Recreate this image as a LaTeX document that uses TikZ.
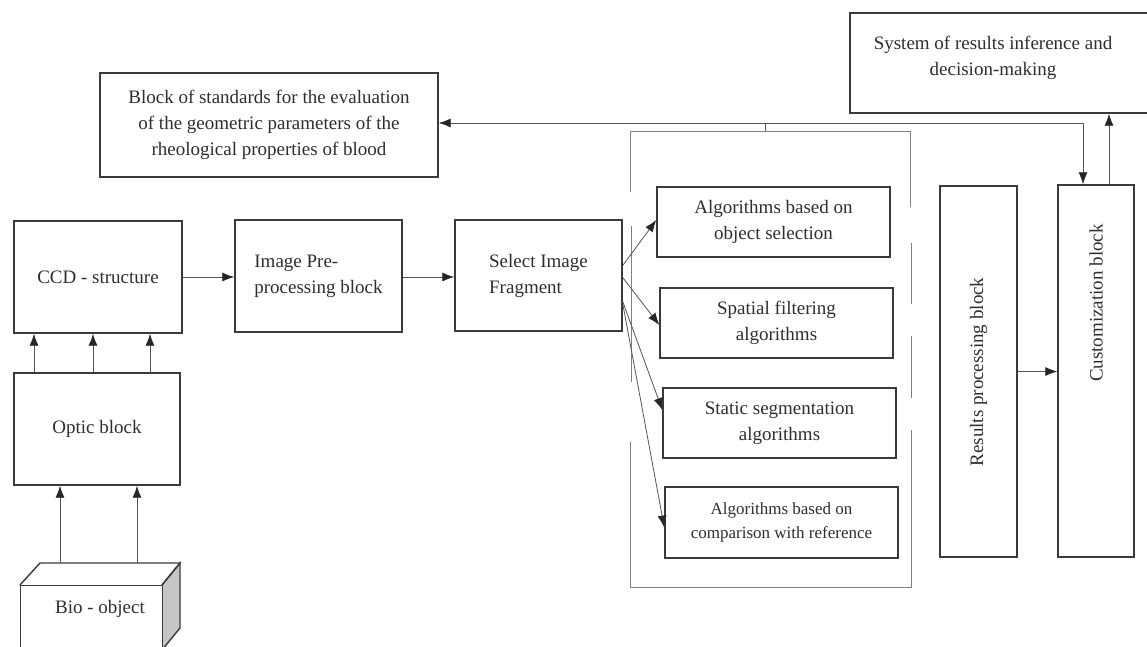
\documentclass[tikz,border=0pt]{standalone}
\usepackage{fontspec}
\setmainfont{Liberation Serif}
\usetikzlibrary{arrows.meta}
\definecolor{boxline}{HTML}{3A3A3A}
\definecolor{conn}{HTML}{555555}
\definecolor{txt}{HTML}{2E2E2E}
\begin{document}
\begin{tikzpicture}[x=1pt,y=-1pt,
  blk/.style={draw=boxline,line width=1.4pt,rectangle,inner sep=0pt,text=txt,
     font=\fontsize{19}{26}\selectfont,align=center},
  arr/.style={draw=conn,line width=0.8pt,-{Latex[length=12pt,width=9pt,color=black!85]}},
  ln/.style={draw=conn,line width=0.8pt},
  brk/.style={draw=gray,line width=0.9pt},
  lbl/.style={text=txt,font=\fontsize{19}{26}\selectfont,align=center,inner sep=0pt}]
\useasboundingbox (0,0) rectangle (1147,646);
% top blocks
\node[blk,minimum width=338,minimum height=104] (std) at (269,125)
  {Block of standards for the evaluation\\of the geometric parameters of the\\rheological properties of blood};
\node[blk,minimum width=300,minimum height=100] (sys) at (1000,63) {};
\node[lbl] (systxt) at (993,58) {System of results inference and\\decision-making};
% left chain
\node[blk,minimum width=168,minimum height=112] (ccd) at (98,277) {CCD - structure};
\node[blk,minimum width=166,minimum height=112] (optic) at (97,429) {Optic block};
\node[blk,minimum width=167,minimum height=112,align=left] (pre) at (318.5,276)
  {Image Pre-\\processing block};
\node[blk,minimum width=167,minimum height=111,align=left] (sel) at (538.5,275.5)
  {Select Image\\Fragment};
% bio-object 3D box
\fill[gray!45] (162,585) -- (180,563) -- (180,628) -- (162,650) -- cycle;
\draw[boxline,line width=1.4pt] (20,585) -- (40,563) -- (180,563) -- (162,585);
\draw[boxline,line width=1.4pt] (162,585) -- (180,563) -- (180,628) -- (162,650);
\node[blk,minimum width=142,minimum height=70,anchor=north west] (bio) at (20,585) {};
\node[lbl] (biotxt) at (100,609) {Bio - object};
\coordinate (bioa) at (60,563);
\coordinate (biob) at (137,563);
% algorithm boxes
\node[blk,minimum width=233,minimum height=70] (a1) at (773.5,222) {Algorithms based on\\object selection};
\node[blk,minimum width=233,minimum height=70] (a2) at (776.5,323) {Spatial filtering\\algorithms};
\node[blk,minimum width=233,minimum height=70] (a3) at (779.5,423) {Static segmentation\\algorithms};
\node[blk,minimum width=233,minimum height=71,font=\fontsize{17}{24}\selectfont] (a4) at (781.5,522.5)
  {Algorithms based on\\comparison with reference};
% right blocks
\node[blk,minimum width=77,minimum height=371] (res) at (978.5,371.5) {};
\node[lbl,rotate=90] (restxt) at (978.5,372) {Results processing block};
\node[blk,minimum width=76,minimum height=372] (cust) at (1096,371) {};
\node[lbl,rotate=90] (custtxt) at (1096,303) {Customization block};
% bracket (broken frame)
\draw[brk] (630,192) -- (630,131) -- (910,131) -- (910,207);
\draw[brk] (631,226) -- (631,382);
\draw[brk] (630,442) -- (630,587) -- (911,587) -- (911,430);
\draw[brk] (911,243) -- (911,304);
\draw[brk] (911,336) -- (911,398);
\coordinate (brtop) at (765,131);
\coordinate (j) at (765,123);
% connectors
\draw[arr] (ccd.east) -- (pre.west |- ccd.east);
\draw[arr] ([yshift=-1pt]pre.east) -- ([yshift=-1pt]pre.east -| sel.west);
\foreach \dx in {-63,-4,53} \draw[arr] ([xshift=\dx]optic.north) -- ([xshift=\dx]optic.north |- ccd.south);
\draw[arr] (bioa) -- (bioa |- optic.south);
\draw[arr] (biob) -- (biob |- optic.south);
\draw[arr] ([yshift=10pt]sel.east) -- ([yshift=2pt]a1.west);
\draw[arr] ([yshift=-2pt]sel.east) -- ([yshift=-2pt]a2.west);
\draw[arr] ([yshift=-26pt]sel.east) -- ([yshift=13pt]a3.west);
\draw[arr] ([yshift=-28pt]sel.east) -- ([yshift=-5pt]a4.west);
\draw[arr] (res.east) -- (res.east -| cust.west);
\draw[ln] (brtop) -- (j);
\draw[arr] (j) -- (std.east |- j);
\draw[arr] (j) -| ([xshift=-13pt]cust.north);
\draw[arr] ([xshift=13pt]cust.north) -- ([xshift=13pt]cust.north |- sys.south);
\end{tikzpicture}
\end{document}
